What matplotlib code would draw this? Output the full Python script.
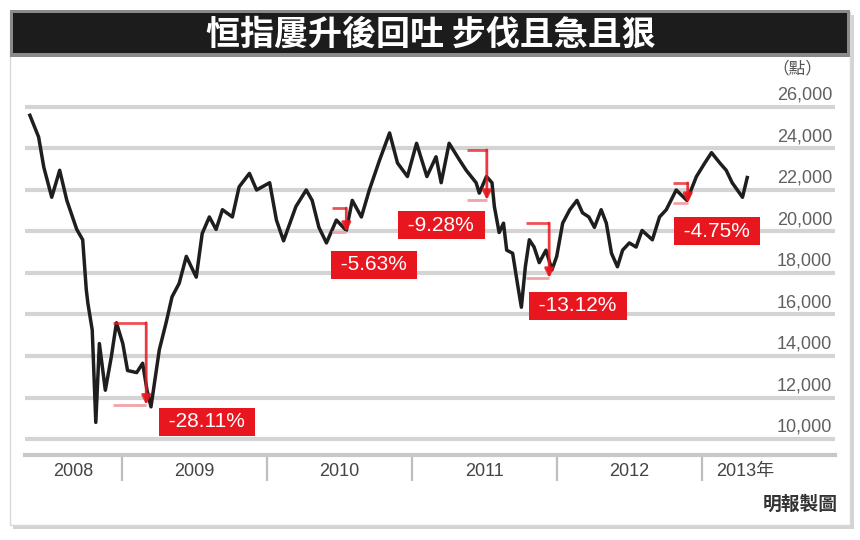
import datetime as dt

import matplotlib
matplotlib.use('Agg')
import matplotlib.pyplot as plt
import matplotlib.dates as mdates
from matplotlib.patches import Rectangle

plt.rcParams['font.family'] = ['Liberation Sans', 'Noto Sans CJK TC', 'DejaVu Sans']

title = '恒指屢升後回吐 步伐且急且狠'
unit_label = '（點）'
source_label = '明報製圖'

# Hang Seng index (approx. swing points)
dates = [
    '2008-05-14', '2008-06-05', '2008-06-18', '2008-07-08', '2008-07-28',
    '2008-08-15', '2008-09-09', '2008-09-24', '2008-10-03', '2008-10-07',
    '2008-10-18', '2008-10-27', '2008-11-05', '2008-11-20', '2008-12-05',
    '2008-12-18', '2009-01-03', '2009-01-15', '2009-02-07', '2009-02-22',
    '2009-03-05', '2009-03-15', '2009-04-05', '2009-04-22', '2009-05-07',
    '2009-05-25', '2009-06-12', '2009-07-07', '2009-07-22', '2009-08-09',
    '2009-08-26', '2009-09-11', '2009-10-06', '2009-10-23', '2009-11-18',
    '2009-12-06', '2009-12-20', '2010-01-08', '2010-01-25', '2010-02-12',
    '2010-03-15', '2010-04-10', '2010-04-25', '2010-05-12', '2010-05-31',
    '2010-06-25', '2010-07-20', '2010-08-04', '2010-08-27', '2010-09-16',
    '2010-10-12', '2010-11-06', '2010-11-26', '2010-12-21', '2011-01-13',
    '2011-02-08', '2011-03-03', '2011-03-16', '2011-04-05', '2011-05-01',
    '2011-05-18', '2011-06-12', '2011-06-20', '2011-07-08', '2011-07-22',
    '2011-07-28', '2011-08-09', '2011-08-20', '2011-08-28', '2011-09-12',
    '2011-09-24', '2011-10-04', '2011-10-14', '2011-10-24', '2011-11-05',
    '2011-11-18', '2011-12-05', '2011-12-20', '2012-01-01', '2012-01-16',
    '2012-02-03', '2012-02-21', '2012-03-06', '2012-03-22', '2012-04-05',
    '2012-04-22', '2012-05-05', '2012-05-18', '2012-06-02', '2012-06-15',
    '2012-07-02', '2012-07-19', '2012-08-03', '2012-08-29', '2012-09-16',
    '2012-10-03', '2012-10-28', '2012-11-24', '2012-12-18', '2013-01-08',
    '2013-01-25', '2013-02-15', '2013-03-03', '2013-03-18', '2013-04-13',
    '2013-04-25',
]
hsi = [
    25600, 24550, 23100, 21650, 22950,
    21500, 20100, 19600, 17200, 16550,
    15250, 10800, 14600, 12350, 13950,
    15600, 14600, 13300, 13200, 13650,
    12350, 11550, 14300, 15600, 16850,
    17500, 18800, 17800, 19900, 20700,
    20100, 21050, 20700, 22150, 22800,
    22000, 22150, 22350, 20550, 19550,
    21200, 22000, 21500, 20200, 19450,
    20550, 20050, 21500, 20700, 22000,
    23450, 24750, 23300, 22650, 24250,
    22650, 23600, 22350, 24250, 23450,
    22950, 22350, 21850, 22650, 22350,
    21200, 19950, 20400, 19100, 18950,
    17500, 16350, 18300, 19600, 19250,
    18500, 19100, 18150, 18800, 20400,
    21050, 21500, 20900, 20700, 20200,
    21050, 20400, 18950, 18300, 19100,
    19450, 19250, 20050, 19600, 20700,
    21050, 22000, 21500, 22650, 23300,
    23800, 23300, 22950, 22350, 21650,
    22600,
]

y_ticks = [10000, 12000, 14000, 16000, 18000, 20000, 22000, 24000, 26000]
year_starts = ['2009-01-01', '2010-01-01', '2011-01-01', '2012-01-01', '2013-01-01']
year_labels = ['2008', '2009', '2010', '2011', '2012', '2013年']
year_label_dates = ['2008-09-01', '2009-07-02', '2010-07-02', '2011-07-02',
                    '2012-07-02', '2013-04-20']

# the five pull-backs: label, peak date, trough date, peak, trough, box position
drop_labels = ['-28.11%', '-5.63%', '-9.28%', '-13.12%', '-4.75%']
drop_start = ['2008-12-10', '2010-06-15', '2011-05-19', '2011-10-16', '2012-10-19']
drop_end = ['2009-03-03', '2010-07-20', '2011-07-09', '2011-12-13', '2012-11-26']
drop_peak = [15600, 21130, 23930, 20410, 22340]
drop_trough = [11650, 19980, 21520, 17760, 21370]
box_dates = ['2009-08-03', '2010-09-28', '2011-03-16', '2012-02-23', '2013-02-08']
box_values = [10820, 18390, 20310, 16410, 20020]

RED = '#e8161f'


def d(s):
    return mdates.date2num(dt.datetime.strptime(s, '%Y-%m-%d'))


W, H = 860, 540
fig = plt.figure(figsize=(W / 100, H / 100), dpi=100)


def box(x0, y0, x1, y1, **kw):
    # rectangle in pixel coords (top-left origin), kept behind the axes
    fig.patches.append(Rectangle((x0 / W, 1 - y1 / H), (x1 - x0) / W, (y1 - y0) / H,
                                 transform=fig.transFigure, zorder=-10, **kw))


# frame with a soft shadow
box(13, 15, 854, 529, facecolor='#d4d4d4', edgecolor='none')
box(10, 12, 850, 525, facecolor='white', edgecolor='#d8d8d8', lw=1)
# title bar
box(10, 10, 850, 57, facecolor='#8a8a8a', edgecolor='none')
box(13, 13, 847, 53, facecolor='#1c1c1c', edgecolor='none')
fig.text(431 / W, 1 - 34 / H, title, color='white', fontsize=24.5, fontweight='bold',
         ha='center', va='center', family=['Noto Sans CJK TC', 'DejaVu Sans'])

fig.text(797 / W, 1 - 69 / H, unit_label, color='#555555', fontsize=12,
         ha='center', va='center', family=['Noto Sans CJK TC', 'DejaVu Sans'])
fig.text(838 / W, 1 - 504 / H, source_label, color='#333333', fontsize=13.5,
         fontweight='bold', ha='right', va='center',
         family=['Noto Sans CJK TC', 'DejaVu Sans'])

# plot area: 25..835 px wide, 95..455 px tall
ax = fig.add_axes([25 / W, 1 - 455 / H, 810 / W, 360 / H])
ax.set_facecolor('none')
x_dates = [d(s) for s in dates]
d2009 = d('2009-01-01')
ax.set_xlim(d2009 - 97 / 145 * 365.25, d2009 + 713 / 145 * 365.25)
ax.set_ylim(9229, 26578)

for s in ['top', 'left', 'right']:
    ax.spines[s].set_visible(False)
ax.spines['bottom'].set_color('#c8c8c8')
ax.spines['bottom'].set_linewidth(3)
ax.set_yticks([])

for v in y_ticks:
    ax.axhline(v, color='#d4d4d4', lw=3, zorder=0)
    ax.annotate(f'{v:,}', xy=(0.9963, v), xycoords=('axes fraction', 'data'),
                xytext=(0, 2.5), textcoords='offset points', ha='right', va='bottom',
                fontsize=13, color='#606060')

ax.set_xticks([d(s) for s in year_starts])
ax.set_xticklabels([])
ax.tick_params(axis='x', which='major', direction='out', length=19, width=1.6,
               color='#bdbdbd')
ax.set_xticks([d(s) for s in year_label_dates], minor=True)
ax.set_xticklabels(year_labels, minor=True)
ax.tick_params(axis='x', which='minor', length=0, pad=6, labelsize=13,
               labelcolor='#444444')

ax.plot(x_dates, hsi, color='#1e1e1e', lw=2.5, zorder=3)

for lab, s0, s1, pk, tr, bd, bv in zip(drop_labels, drop_start, drop_end, drop_peak,
                                        drop_trough, box_dates, box_values):
    x0, x1 = d(s0), d(s1)
    ax.plot([x0, x1], [pk, pk], color=RED, lw=2, alpha=0.75, zorder=4,
            solid_capstyle='butt')
    ax.plot([x0, x1], [tr, tr], color='#f3a3a6', lw=2, zorder=4,
            solid_capstyle='butt')
    ax.annotate('', xy=(x1, tr), xytext=(x1, pk),
                arrowprops=dict(arrowstyle='-|>', color=RED, lw=2, alpha=0.85,
                                mutation_scale=13, shrinkA=0, shrinkB=0),
                zorder=5)
    ax.text(d(bd), bv, ' ' + lab + ' ', color='white', fontsize=15, ha='center',
            va='center', zorder=6,
            bbox=dict(boxstyle='square,pad=0.22', fc=RED, ec='none'))

plt.savefig('out.png', dpi=100)
